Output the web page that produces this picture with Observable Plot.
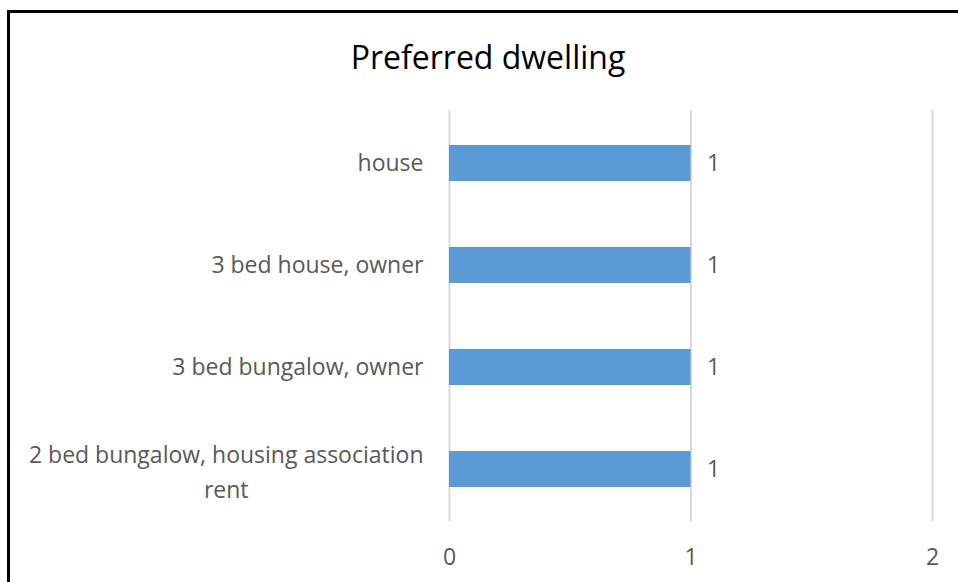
<!DOCTYPE html>
<html><head><meta charset="utf-8">
<script src="https://cdn.jsdelivr.net/npm/d3@7"></script>
<script src="https://cdn.jsdelivr.net/npm/@observablehq/plot@0.6"></script>
<style>
body{margin:0;background:#fff;}
#wrap{position:relative;width:958px;height:582px;overflow:hidden;font-family:"Open Sans",sans-serif;}
#frame{position:absolute;left:7px;top:10px;width:1000px;height:700px;border-left:3px solid #000;border-top:3px solid #000;}
#title{position:absolute;left:0;width:976px;top:35px;text-align:center;font-size:32px;line-height:44px;color:#000;}
#chart{position:absolute;left:0;top:0;}
</style></head>
<body><div id="wrap"><div id="frame"></div><div id="title">Preferred dwelling</div><div id="chart"></div></div>
<script>
const categories = ["house", "3 bed house, owner", "3 bed bungalow, owner", "2 bed bungalow, housing association\nrent"];
const values = [1, 1, 1, 1];
const xTicks = [0, 1, 2];

const data = categories.map((c, i) => ({category: c, value: values[i]}));
const fontFamily = '"Open Sans", sans-serif';
const labelSize = 23;

const wrapped = categories.filter(s => s.includes("\n"));
const ctx = document.createElement("canvas").getContext("2d");
ctx.font = labelSize + "px " + fontFamily;
const wrappedHalf = wrapped.length ? Math.max(...wrapped[0].split("\n").map(s => ctx.measureText(s).width)) / 2 : 0;

const plot = Plot.plot({
  width: 958, height: 582,
  marginLeft: 449, marginRight: 26, marginTop: 110, marginBottom: 61,
  style: {fontFamily, fontSize: labelSize + "px", color: "#595959", background: "transparent"},
  x: {domain: [0, 2]},
  y: {domain: categories, paddingInner: 0.65, paddingOuter: 0.325},
  marks: [
    Plot.gridX(xTicks, {stroke: "#d9d9d9", strokeOpacity: 1, strokeWidth: 2}),
    Plot.barX(data, {x: "value", y: "category", fill: "#5b9bd5"}),
    Plot.text(data, {x: "value", y: "category", text: d => String(d.value), textAnchor: "start", dx: 16, fill: "#595959", fontSize: labelSize}),
    Plot.axisX({ticks: xTicks, tickFormat: d => String(d), tickSize: 0, tickPadding: 27, fontSize: labelSize, fill: "#595959", label: null}),
    Plot.axisY({tickSize: 0, tickPadding: 26, fontSize: labelSize, fill: "#595959", label: null,
      tickFormat: d => d.includes("\n") ? "" : d}),
    Plot.text(data.filter(d => d.category.includes("\n")), {
      y: "category", frameAnchor: "left", text: "category", textAnchor: "middle", lineHeight: 1.52,
      fill: "#595959", fontSize: labelSize, dx: -26 - wrappedHalf
    })
  ]
});
document.getElementById("chart").append(plot);
</script></body></html>
